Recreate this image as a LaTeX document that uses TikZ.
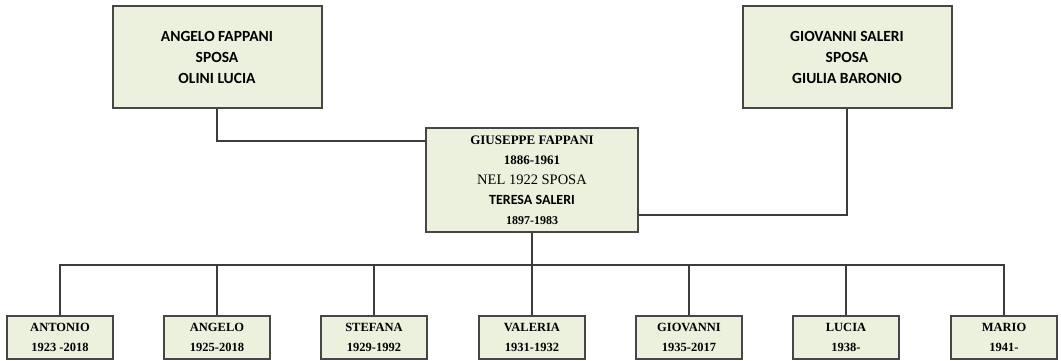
\documentclass[tikz,border=0pt]{standalone}
\usepackage{fontspec}
\setmainfont{Liberation Serif}
\newfontfamily\carl{Carlito}
\definecolor{boxfill}{RGB}{236,241,222}
\definecolor{boxline}{RGB}{70,70,70}
\definecolor{conn}{RGB}{60,60,60}
\begin{document}
\begin{tikzpicture}[x=1pt,y=-1pt,
  box/.style={draw=boxline,line width=2pt,fill=boxfill,inner sep=0pt,align=center},
  topbox/.style={box,minimum width=209pt,minimum height=102pt,font=\carl\bfseries\fontsize{15.5}{21}\selectfont},
  midbox/.style={box,minimum width=212pt,minimum height=104pt,font=\fontsize{12}{20}\selectfont},
  kidbox/.style={box,minimum width=106pt,minimum height=43pt,font=\bfseries\fontsize{12.5}{20}\selectfont},
  link/.style={draw=conn,line width=1.3pt}]
\useasboundingbox (0,0) rectangle (1061,361);
\node[topbox] (tl) at (217,57) {ANGELO FAPPANI\\SPOSA\\OLINI LUCIA};
\node[topbox] (tr) at (847,57) {GIOVANNI SALERI\\SPOSA\\GIULIA BARONIO};
\node[midbox] (c) at (532,180) {%
  {\bfseries\fontsize{13}{20}\selectfont GIUSEPPE FAPPANI}\\
  {\bfseries\fontsize{13}{20}\selectfont 1886-1961}\\
  {\fontsize{14.5}{20}\selectfont NEL 1922 SPOSA}\\
  {\carl\bfseries\fontsize{14}{20}\selectfont TERESA SALERI}\\
  {\bfseries\fontsize{12}{20}\selectfont 1897-1983}};
\node[kidbox] (k1) at (60,337)   {ANTONIO\\1923 -2018};
\node[kidbox] (k2) at (217,337)  {ANGELO\\1925-2018};
\node[kidbox] (k3) at (374,337)  {STEFANA\\1929-1992};
\node[kidbox] (k4) at (532,337)  {VALERIA\\1931-1932};
\node[kidbox] (k5) at (689,337)  {GIOVANNI\\1935-2017};
\node[kidbox] (k6) at (846,337)  {LUCIA\\1938-};
\node[kidbox] (k7) at (1004,337) {MARIO\\1941-};
\draw[link] (tl.south) |- ([yshift=-14pt]c.north west);
\draw[link] (tr.south) |- ([yshift=18pt]c.south east);
\coordinate (bus) at (532,265);
\draw[link] (c.south) -- (bus);
\foreach \k in {k1,k2,k3,k4,k5,k6,k7}{\draw[link] (bus) -| (\k.north);}
\end{tikzpicture}
\end{document}
